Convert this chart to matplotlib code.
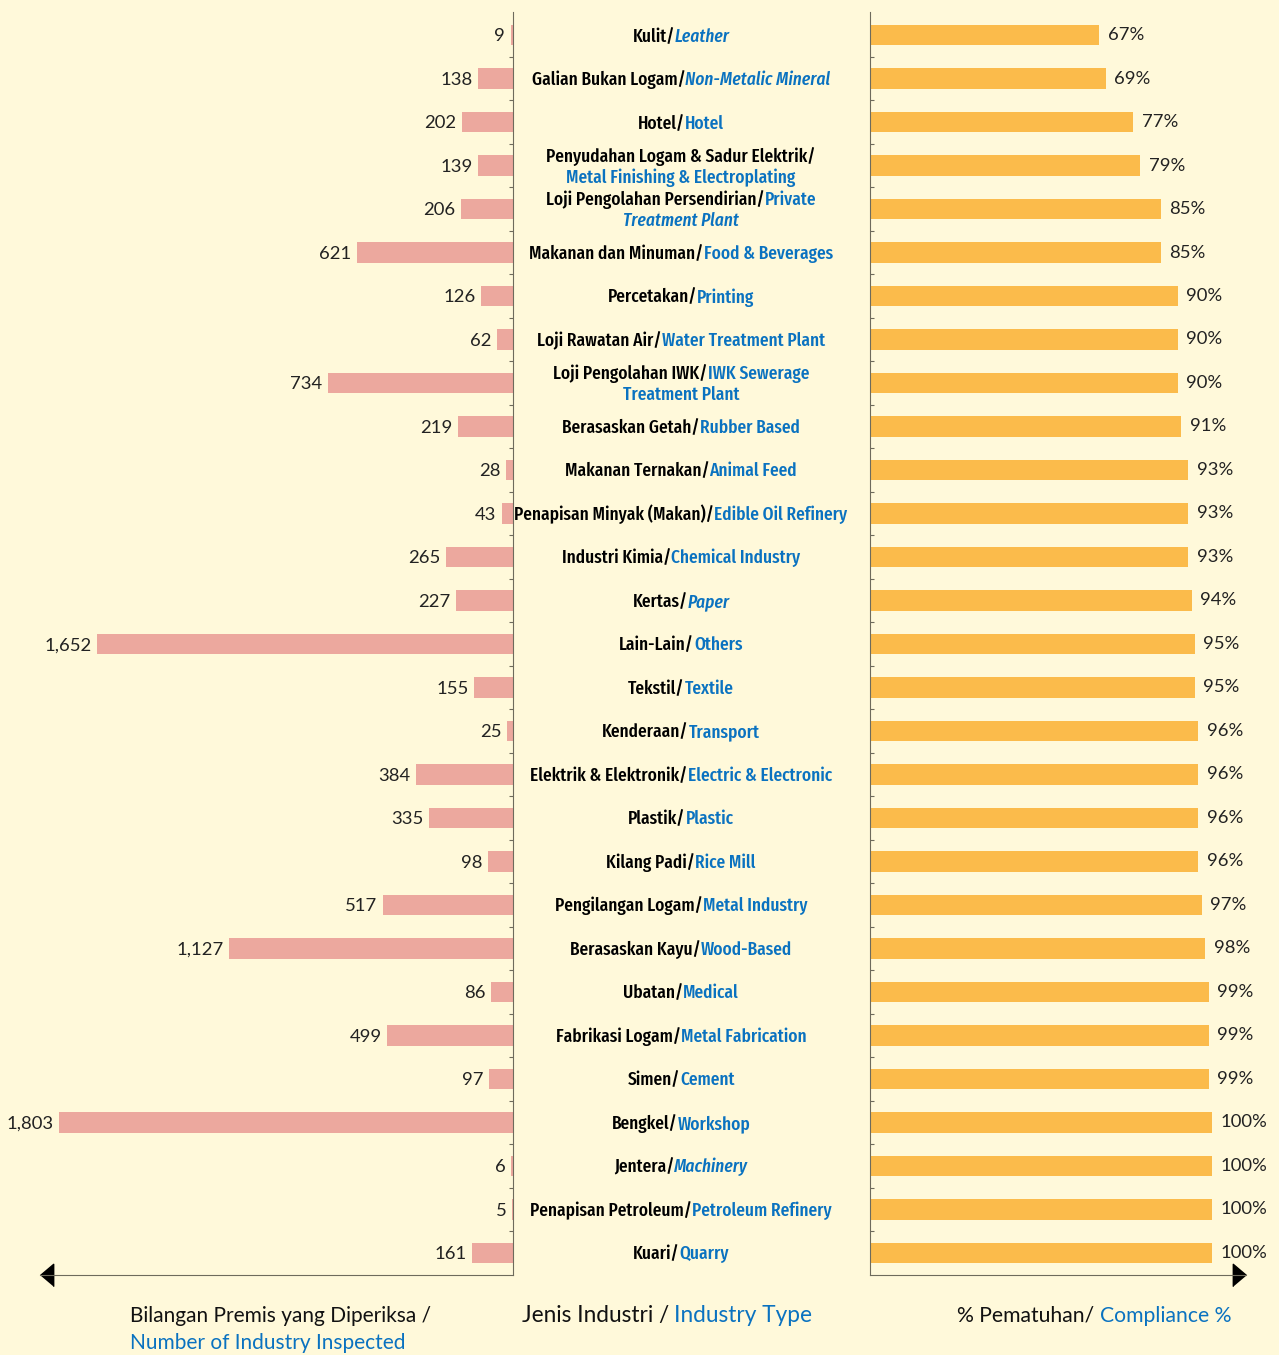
import numpy as np
import matplotlib
matplotlib.use("Agg")
import matplotlib.pyplot as plt
from matplotlib import font_manager as fm
from matplotlib.transforms import IdentityTransform

# data
malay = ["Kulit", "Galian Bukan Logam", "Hotel", "Penyudahan Logam & Sadur Elektrik",
         "Loji Pengolahan Persendirian", "Makanan dan Minuman", "Percetakan", "Loji Rawatan Air",
         "Loji Pengolahan IWK", "Berasaskan Getah", "Makanan Ternakan", "Penapisan Minyak (Makan)",
         "Industri Kimia", "Kertas", "Lain-Lain", "Tekstil", "Kenderaan", "Elektrik & Elektronik",
         "Plastik", "Kilang Padi", "Pengilangan Logam", "Berasaskan Kayu", "Ubatan",
         "Fabrikasi Logam", "Simen", "Bengkel", "Jentera", "Penapisan Petroleum", "Kuari"]
# "\n" = line break, leading "*" = italic line part
english = ["*Leather", "*Non-Metalic Mineral", "Hotel", "\nMetal Finishing & Electroplating",
           "Private\n*Treatment Plant", "Food & Beverages", "Printing", "Water Treatment Plant",
           "IWK Sewerage\nTreatment Plant", "Rubber Based", "Animal Feed", "Edible Oil Refinery",
           "Chemical Industry", "*Paper", "Others", "Textile", "Transport", "Electric & Electronic",
           "Plastic", "Rice Mill", "Metal Industry", "Wood-Based", "Medical", "Metal Fabrication",
           "Cement", "Workshop", "*Machinery", "Petroleum Refinery", "Quarry"]
inspected = [9, 138, 202, 139, 206, 621, 126, 62, 734, 219, 28, 43, 265, 227, 1652, 155, 25,
             384, 335, 98, 517, 1127, 86, 499, 97, 1803, 6, 5, 161]
compliance = [67, 69, 77, 79, 85, 85, 90, 90, 90, 91, 93, 93, 93, 94, 95, 95, 96, 96, 96, 96,
              97, 98, 99, 99, 99, 100, 100, 100, 100]

bg = '#FFF9DA'
pink = '#ECA89E'
orange = '#FBBB4B'
blue = '#0A72C0'
spine_c = '#6E6B5C'
body = ['Lato', 'DejaVu Sans']


# look for the narrowest installed condensed sans for the industry names
def find_narrow(style):
    best, best_score = None, -1
    for f in fm.fontManager.ttflist:
        tag = (f.name + ' ' + f.fname).lower().replace(' ', '').replace('-', '')
        cond = f.stretch != 'normal' or 'narrow' in tag or 'condensed' in tag
        if not cond or f.style != style:
            continue
        if 'mono' in tag or 'serif' in tag and 'sansserif' not in tag:
            continue
        if 'bold' in tag or 'black' in tag or 'heavy' in tag:
            continue
        try:
            w = int(f.weight)
        except ValueError:
            w = 400
        if w not in (400, 500, 600):
            continue
        score = 2
        if 'extracondensed' in tag:
            score = 4
        elif 'semicondensed' in tag:
            score = 1
        score += {500: 0.5, 400: 0.3, 600: 0.1}[w]
        if score > best_score:
            best, best_score = f, score
    return fm.FontProperties(fname=best.fname) if best else None


narrow_n = find_narrow('normal')
narrow_i = find_narrow('italic') or find_narrow('oblique')

W, H = 1279, 1355
fig = plt.figure(figsize=(W / 100, H / 100), dpi=100, facecolor=bg)


def px_axes(x0, x1, y0, y1):
    ax = fig.add_axes([x0 / W, 1 - y1 / H, (x1 - x0) / W, (y1 - y0) / H])
    ax.set_facecolor('none')
    return ax


n = len(malay)
y = np.arange(n)
ylim = (n - 1 + 0.51, -0.53)

axl = px_axes(40, 513, 12, 1275)
axr = px_axes(870, 1246, 12, 1275)

# left: number inspected
axl.barh(y, inspected, height=0.47, color=pink)
axl.set_xlim(1878, 0)
axl.set_ylim(*ylim)
for s in ['top', 'left']:
    axl.spines[s].set_visible(False)
for s in ['right', 'bottom']:
    axl.spines[s].set_color(spine_c)
axl.set_xticks([])
axl.yaxis.tick_right()
axl.set_yticks(y[:-1] + 0.5)
axl.set_yticklabels([])
axl.tick_params(axis='y', direction='in', length=3, color=spine_c)
for i, v in enumerate(inspected):
    axl.annotate(f"{v:,}", (v, i), xytext=(-4, -1), textcoords='offset points',
                 ha='right', va='center', fontsize=13.3, family=body, color='#222222')
axl.plot(0, 0, marker=[(0, 0), (13, 11), (13, -11)], markersize=19, color='black',
         transform=axl.transAxes, clip_on=False)

# right: compliance
axr.barh(y, compliance, height=0.47, color=orange)
axr.set_xlim(0, 109.9)
axr.set_ylim(*ylim)
for s in ['top', 'right']:
    axr.spines[s].set_visible(False)
for s in ['left', 'bottom']:
    axr.spines[s].set_color(spine_c)
axr.set_xticks([])
axr.set_yticks(y[:-1] + 0.5)
axr.set_yticklabels([])
axr.tick_params(axis='y', direction='in', length=3, color=spine_c)
for i, v in enumerate(compliance):
    axr.annotate(f"{v}%", (v, i), xytext=(6, 0), textcoords='offset points',
                 ha='left', va='center', fontsize=13.3, family=body, color='#222222')
axr.plot(1, 0, marker=[(0, 0), (-13, 11), (-13, -11)], markersize=19, color='black',
         transform=axr.transAxes, clip_on=False)

renderer = fig.canvas.get_renderer()


def make_text(s, c, st, size, family):
    kw = dict(transform=IdentityTransform(), color=c, ha='left', va='baseline')
    if family == 'narrow':
        fp = narrow_i if st == 'italic' else narrow_n
        if fp is None:
            fp = fm.FontProperties(family='DejaVu Sans', style=st)
        fp = fp.copy()
        fp.set_size(size)
        return fig.text(0, 0, s, fontproperties=fp, **kw)
    return fig.text(0, 0, s, fontsize=size, family=family, style=st, **kw)


def draw_line(segs, x, yb, align='center', size=13.5, family='narrow'):
    texts = [make_text(s, c, st, size, family) for s, c, st in segs]
    widths = [t.get_window_extent(renderer).width for t in texts]
    if align == 'center':
        x = x - sum(widths) / 2
    for t, w in zip(texts, widths):
        t.set_position((x, yb))
        x += w


# size the narrow font so the widest single line fits like the reference (~299 px)
probe = make_text("Galian Bukan Logam/Non-Metalic Mineral", 'black', 'normal', 13.5, 'narrow')
lab_size = min(16.0, 13.5 * 300 / probe.get_window_extent(renderer).width)
probe.remove()

# centre: industry labels
for i in range(n):
    lines = [[(malay[i] + "/", 'black', 'normal')]]
    for k, part in enumerate(english[i].split("\n")):
        if k > 0:
            lines.append([])
        if part:
            st = 'italic' if part.startswith('*') else 'normal'
            lines[-1].append((part.lstrip('*'), blue, st))
    yc = axl.transData.transform((0, i))[1]
    off = (len(lines) - 1) * 10.5
    for j, segs in enumerate(lines):
        draw_line(segs, 681, yc + off - j * 21 - 6.5, size=lab_size)

# axis titles
draw_line([("Bilangan Premis yang Diperiksa /", '#111111', 'normal')], 130, H - 1322,
          align='left', size=15, family=body)
draw_line([("Number of Industry Inspected", blue, 'normal')], 130, H - 1349,
          align='left', size=15, family=body)
draw_line([("Jenis Industri / ", '#111111', 'normal'), ("Industry Type", blue, 'normal')],
          667, H - 1322, size=16.3, family=body)
draw_line([("% Pematuhan/ ", '#111111', 'normal'), ("Compliance %", blue, 'normal')],
          957, H - 1322, align='left', size=15.2, family=body)

fig.savefig('out.png', dpi=100, facecolor=bg)
